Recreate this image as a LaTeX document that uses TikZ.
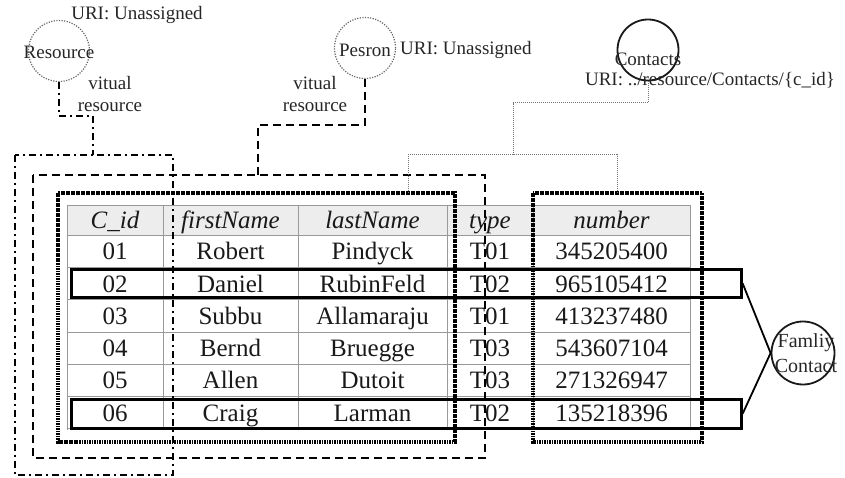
\documentclass[tikz,border=0pt]{standalone}
\usepackage{fontspec}
\setmainfont{Liberation Serif}
\begin{document}
\begin{tikzpicture}[x=1pt,y=-1pt,
  lbl/.style={font=\fontsize{19}{24}\selectfont, text=black!85, inner sep=0pt},
  cell/.style={font=\fontsize{25}{28}\selectfont, text=black!90, inner sep=0pt, anchor=base},
  hcell/.style={cell, font=\fontsize{25}{28}\selectfont\itshape},
  dotring/.style={circle, draw=black!60, line width=1.2pt, dash pattern=on 1.2pt off 1.4pt, minimum size=61pt, inner sep=0pt},
  ring/.style={circle, draw=black!90, line width=1.8pt, minimum size=61pt, inner sep=0pt},
  dashdotline/.style={line width=2.4pt, dash pattern=on 7pt off 4pt on 2pt off 4pt},
  dashline/.style={line width=2.4pt, dash pattern=on 8pt off 5pt},
  densedot/.style={line width=3.2pt, dash pattern=on 1.6pt off 0.9pt},
  thindot/.style={line width=1pt, draw=black!55, dash pattern=on 1pt off 1pt},
  hl/.style={draw, line width=2.6pt, inner sep=0pt, rectangle, anchor=north west},
  gridline/.style={draw=black!40, line width=0.8pt}]
\useasboundingbox (0,0) rectangle (845,478);

% ---------- table ----------
\fill[black!7] (67,205) rectangle (690,235);
\foreach \yy in {205,235,267.3,299.6,331.9,364.2,396.5,428.8}
  \draw[gridline] (67,\yy) -- (690,\yy);
\foreach \xx in {67,163,298,447,533,690}
  \draw[gridline] (\xx,205) -- (\xx,430);

\node[hcell] (h1) at (115,228.5) {C\_id};
\node[hcell] (h2) at (230.5,228.5) {firstName};
\node[hcell] (h3) at (372.5,228.5) {lastName};
\node[hcell] (h4) at (490,228.5) {type};
\node[hcell] (h5) at (611.5,228.5) {number};

\foreach \i/\yc/\id/\fn/\ln/\ty/\nu in {
  1/251/01/Robert/Pindyck/T01/345205400,
  2/283.5/02/Daniel/RubinFeld/T02/965105412,
  3/315.8/03/Subbu/Allamaraju/T01/413237480,
  4/348/04/Bernd/Bruegge/T03/543607104,
  5/380.4/05/Allen/Dutoit/T03/271326947,
  6/412.7/06/Craig/Larman/T02/135218396} {
  \node[cell] (r\i-a) at (115,\yc+8.5) {\id};
  \node[cell] (r\i-b) at (230.5,\yc+8.5) {\fn};
  \node[cell] (r\i-c) at (372.5,\yc+8.5) {\ln};
  \node[cell] (r\i-d) at (490,\yc+8.5) {\ty};
  \node[cell] (r\i-e) at (611.5,\yc+8.5) {\nu};
}

% highlighted rows
\node[hl, minimum width=670pt, minimum height=28pt] (row2) at (70,268) {};
\node[hl, minimum width=670pt, minimum height=29pt] (row6) at (70,398) {};

% ---------- resource circles and labels ----------
\node[dotring] (res) at (59,51) {};
\node[lbl] (restxt) at (59,52) {Resource};
\node[lbl] (resuri) at (137,15) {URI: Unassigned};
\node[lbl] (resv1) at (110,83) {vitual};
\node[lbl] (resv2) at (110,107) {resource};

\node[dotring] (per) at (365,48) {};
\node[lbl] (pertxt) at (365,50) {Pesron};
\node[lbl, anchor=west] (peruri) at (400,50) {URI: Unassigned};
\node[lbl] (perv1) at (315,83) {vitual};
\node[lbl] (perv2) at (315,107) {resource};

\node[ring] (con) at (648,50) {};
\node[lbl] (contxt) at (648,59) {Contacts};
\node[lbl] (conuri) at (710,80) {URI: ../resource/Contacts/\{c\_id\}};

\node[ring, minimum size=63pt] (fam) at (803,353) {};
\node[lbl, align=center, font=\fontsize{20}{25}\selectfont] (famtxt) at (806,353) {Famliy\\Contact};

% ---------- grouping boxes ----------
\draw[dashdotline] (15,155) rectangle (173,475);
\draw[dashline] (33,175) rectangle (485,458);
\draw[densedot] (58,193) rectangle (455,442);
\draw[densedot] (533,193) rectangle (702,442);

% ---------- connectors ----------
\coordinate (rbend1) at (59,116);
\coordinate (rbend2) at (93,116);
\coordinate (rtop) at (93,155);
\draw[dashdotline] (res.south) -- (rbend1) -- (rbend2) -- (rtop);

\coordinate (pbend1) at (365,125);
\coordinate (pbend2) at (258,125);
\coordinate (ptop) at (258,175);
\draw[dashline] (per.south) -- (pbend1) -- (pbend2) -- (ptop);

\coordinate (cbend1) at (648,103);
\coordinate (cbend2) at (513,103);
\coordinate (csplit) at (513,155);
\coordinate (cleft) at (408,155);
\coordinate (cright) at (617,155);
\coordinate (cltop) at (408,193);
\coordinate (crtop) at (617,193);
\draw[thindot] (con.south) -- (cbend1) -- (cbend2) -- (csplit);
\draw[thindot] (cltop) -- (cleft) -- (cright) -- (crtop);

\draw[line width=1.8pt] (row2.east) -- (fam.west);
\draw[line width=1.8pt] (row6.east) -- (fam.west);
\end{tikzpicture}
\end{document}
